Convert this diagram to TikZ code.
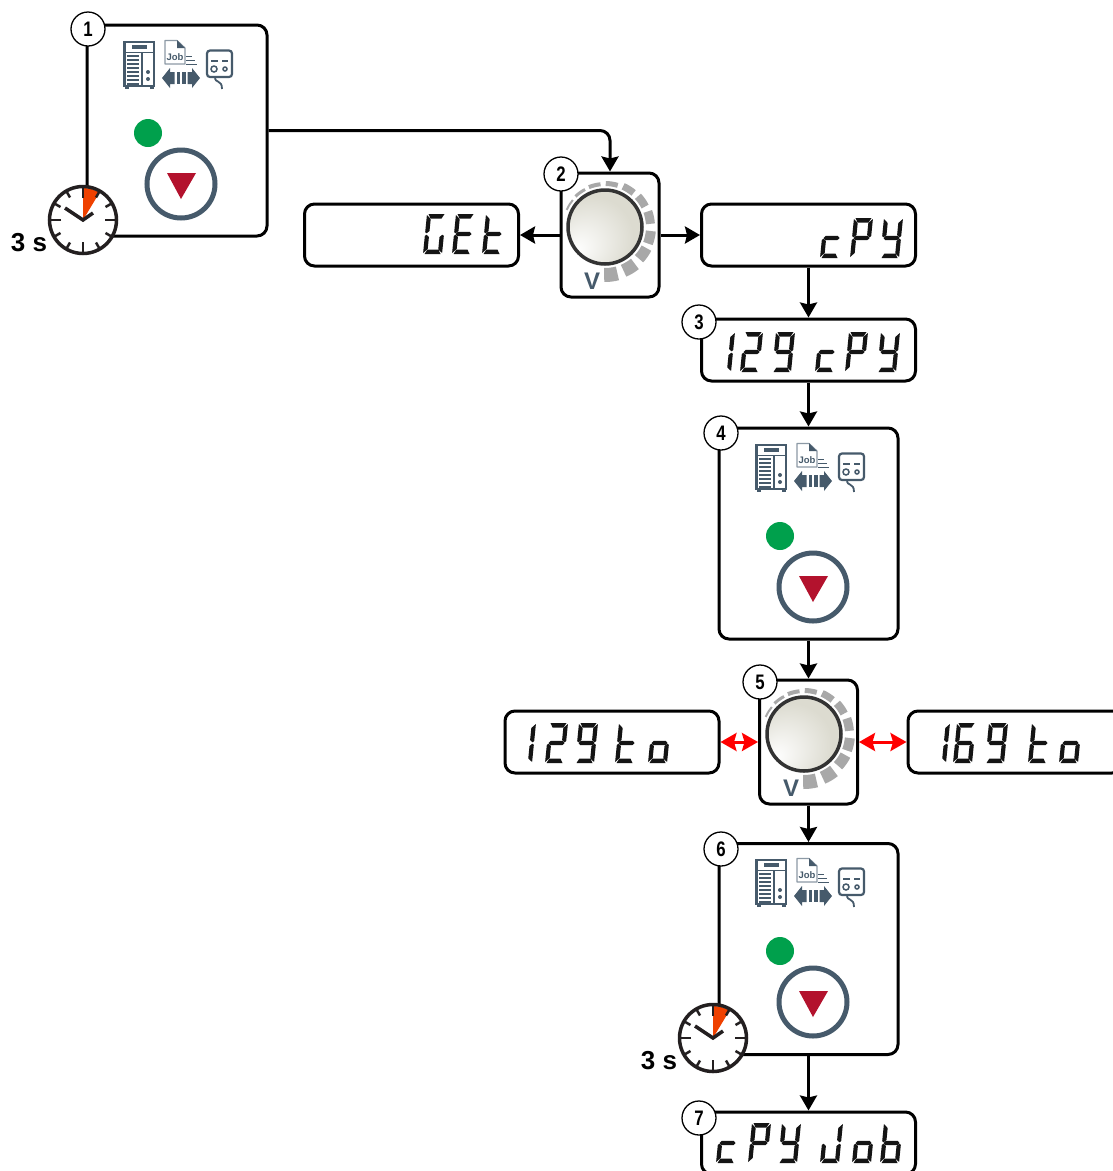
\documentclass[tikz,border=0pt]{standalone}
\usepackage{fontspec}
\usetikzlibrary{arrows.meta}
\setmainfont{Liberation Sans}
\newfontfamily\narrowbold[FakeStretch=0.8]{Liberation Sans Bold}

\definecolor{slate}{HTML}{465A6B}
\definecolor{ledgreen}{HTML}{00A04C}
\definecolor{crimson}{HTML}{B3122D}
\definecolor{wedgeorange}{HTML}{EF4100}
\definecolor{clockink}{HTML}{231F20}
\definecolor{dialgray}{HTML}{A8A8A8}
\definecolor{knobgray}{HTML}{DCDBD0}
\definecolor{lcdink}{HTML}{141414}
\definecolor{paperline}{HTML}{8C99A5}

\pgfdeclareradialshading{knob shade}{\pgfpoint{-20bp}{-16bp}}{color(0bp)=(white); color(28bp)=(knobgray); color(50bp)=(knobgray)}

\def\lcdsega{(1.5,0) -- (17.5,0) -- (15,4.5) -- (4,4.5) -- cycle}
\def\lcdsegb{(19,1) -- (19,18) -- (17.5,19.3) -- (14.8,17) -- (14.8,5) -- cycle}
\def\lcdsegc{(19,22) -- (19,39) -- (14.8,35.5) -- (14.8,23) -- (17.5,20.7) -- cycle}
\def\lcdsegd{(4,35.5) -- (15,35.5) -- (17.5,40) -- (1.5,40) -- cycle}
\def\lcdsege{(0,22) -- (1.5,20.7) -- (4.2,23) -- (4.2,35) -- (0,39) -- cycle}
\def\lcdsegf{(0,1) -- (4.2,5) -- (4.2,17) -- (1.5,19.3) -- (0,18) -- cycle}
\def\lcdsegg{(3.5,17.8) -- (15.5,17.8) -- (17.5,20) -- (15.5,22.2) -- (3.5,22.2) -- (1.5,20) -- cycle}

\newcommand{\lcddef}[2]{\expandafter\def\csname lcd#1\endcsname{#2}}
\lcddef{1}{b,c}
\lcddef{2}{a,b,g,e,d}
\lcddef{6}{a,f,g,e,c,d}
\lcddef{9}{a,b,f,g,c,d}
\lcddef{G}{a,f,e,d,c}
\lcddef{E}{a,f,g,e,d}
\lcddef{t}{f,e,g,d}
\lcddef{c}{g,e,d}
\lcddef{P}{a,b,f,g,e}
\lcddef{Y}{f,b,g,c,d}
\lcddef{J}{b,c,d,e}
\lcddef{o}{g,c,d,e}
\lcddef{b}{f,e,d,c,g}

\newcommand{\lcdglyph}[3]{%
	\edef\lcdlist{\csname lcd#3\endcsname}%
	\begin{scope}[shift = {(#1,#2)}, xslant = 0.1]
		\foreach \s in \lcdlist {\fill [lcdink] \csname lcdseg\s\endcsname;}
	\end{scope}}

\tikzset{
	flow/.style = {line width = 3pt, -{Stealth[length = 15pt, width = 17pt, inset = 2pt]}},
	swap/.style = {line width = 3pt, red, {Stealth[length = 16pt, width = 18pt, inset = 2.5pt]}-{Stealth[length = 16pt, width = 18pt, inset = 2.5pt]}},
	panel/.style = {draw, line width = 3pt, rounded corners = 10pt, fill = white, minimum width = 180pt, minimum height = 211pt},
	knob box/.style = {draw, line width = 3pt, rounded corners = 10pt, fill = white, minimum width = 98pt, minimum height = 124pt},
	display/.style = {draw, line width = 3pt, rounded corners = 10pt, fill = white, minimum width = 214pt, minimum height = 62pt, text opacity = 0, font = \bfseries\fontsize{28}{30}\selectfont},
	step mark/.style = {circle, draw, line width = 1.3pt, fill = white, minimum size = 34pt, inner sep = 0pt, font = \narrowbold\fontsize{21}{21}\selectfont},
	secs/.style = {font = \bfseries\fontsize{26}{26}\selectfont},
	panel icons/.pic = {
		\draw [slate, line width = 2.5pt] (124.5,42) rectangle (154,86);
		\fill [slate] (125,85) rectangle (129,89);
		\fill [slate] (150,85) rectangle (154,89);
		\fill [slate] (132,45) rectangle (147,49);
		\draw [slate, line width = 1.5pt] (124.5,52.5) -- (154,52.5);
		\draw [slate, line width = 1.5pt] (142,52.5) -- (142,86);
		\foreach \y in {56,60,...,84} \draw [slate, line width = 1.6pt] (127,\y) -- (139,\y);
		\fill [slate] (148,72) circle [radius = 2pt];
		\fill [slate] (148,79) circle [radius = 2pt];
		\draw [paperline, line width = 1.2pt, line join = round] (165,40.5) -- (177,40.5) -- (185,48) -- (185,64) -- (165,64) -- cycle;
		\fill [slate] (177,40) -- (185,48) -- (177,48) -- cycle;
		\node [slate, inner sep = 0pt, font = \bfseries\fontsize{9.5}{10}\selectfont] (job) at (175,57) {Job};
		\draw [slate, line width = 1pt] (186,56) -- (192,56);
		\draw [slate, line width = 1pt] (186,60) -- (195,60);
		\draw [slate, line width = 1pt] (186,64) -- (197,64);
		\fill [slate] (162,78) -- (170,68) -- (170,72) -- (174.5,72) -- (174.5,84) -- (170,84) -- (170,88) -- cycle;
		\fill [slate] (200,78) -- (192,68) -- (192,72) -- (187.5,72) -- (187.5,84) -- (192,84) -- (192,88) -- cycle;
		\fill [slate] (176.5,72) rectangle (180,84);
		\fill [slate] (182,72) rectangle (185.5,84);
		\draw [slate, line width = 2.2pt, rounded corners = 3pt] (207,50.5) rectangle (232,77);
		\draw [slate, line width = 2.5pt] (211,61) -- (218,61);
		\draw [slate, line width = 2.5pt] (222,61) -- (228,61);
		\draw [slate, line width = 1.5pt] (214,69) circle [radius = 3pt];
		\draw [slate, line width = 1.5pt] (225,69) circle [radius = 2pt];
		\draw [slate, line width = 1.8pt] (215,77) .. controls (215,84) and (222,79) .. (222,89);
		\fill [ledgreen] (148,133) circle [radius = 14pt];
		\draw [slate, line width = 5pt] (181,184) circle [radius = 34pt];
		\fill [crimson] (167,173) -- (196,173) -- (181,199) -- cycle;
	},
	knob dial/.pic = {
		\foreach \a/\t in {-83/14,-59/13,-35/11,-13/10,12/9,35/8,58/7,81/5,104/4,126/3,148/2}
			\draw [dialgray, line width = \t pt] (\a-8:41pt+\t pt/2) arc [start angle = \a-8, end angle = \a+8, radius = 41pt+\t pt/2];
		\shade [shading = knob shade] (0,0) circle [radius = 37pt];
		\draw [black!80, line width = 3.5pt] (0,0) circle [radius = 37pt];
		\node [slate, inner sep = 0pt, font = \bfseries\fontsize{24}{24}\selectfont] (unit) at (-13,54) {V};
	},
	clock face/.pic = {
		\fill [white] (0,0) circle [radius = 34pt];
		\fill [wedgeorange] (0,0) -- (90:32pt) arc [start angle = 90, end angle = 59, radius = 32pt] -- cycle;
		\foreach \a in {0,90,180,270} \draw [clockink, line width = 2.5pt] (\a:22pt) -- (\a:33pt);
		\foreach \a in {30,60,120,150,210,240,300,330} \draw [clockink, line width = 2.5pt] (\a:26pt) -- (\a:33pt);
		\draw [clockink, line width = 3.5pt, line join = miter] (-18,-12) -- (0,0) -- (10,-7);
		\draw [clockink, line width = 3.5pt] (0,0) circle [radius = 33.5pt];
	}
}

\begin{document}
\begin{tikzpicture}[x = 1pt, y = -1pt]
	\path [use as bounding box] (0,0) rectangle (1113,1171);
	\clip (0,0) rectangle (1113,1171);

	\node [panel] (job a) at (177,130.5) {};
	\node [panel, minimum width = 179pt] (job b) at (808.5,533.5) {};
	\node [panel, minimum width = 179pt] (job c) at (808.5,949) {};

	\node [knob box] (knob a) at (610,235) {};
	\node [knob box] (knob b) at (808.5,742) {};

	\node [display] (get) at (411.5,235) {GEt};
	\node [display] (copy a) at (808.5,235) {cPY};
	\node [display] (copy b) at (808.5,350) {129 cPY};
	\node [display] (from) at (612,742) {129 to};
	\node [display] (to) at (1015,742) {169 to};
	\node [display] (copy c) at (808.5,1143) {cPY Job};

	\draw [flow, rounded corners = 10pt] (job a.east) -| (knob a.north);
	\draw [flow] (knob a.west) -- (get.east);
	\draw [flow] (knob a.east) -- (copy a.west);
	\draw [flow] (copy a.south) -- (copy b.north);
	\draw [flow] (copy b.south) -- (job b.north);
	\draw [flow] (job b.south) -- (knob b.north);
	\draw [flow] (knob b.south) -- (job c.north);
	\draw [flow] (job c.south) -- (copy c.north);
	\draw [swap] (from.east) -- (knob b.west);
	\draw [swap] (knob b.east) -- (to.west);

	\pic (icons a) {panel icons};
	\pic (icons b) at (632,403) {panel icons};
	\pic (icons c) at (632,818) {panel icons};

	\pic (dial a) at (605,227) {knob dial};
	\pic (dial b) at (804,734) {knob dial};

	\pic (clock a) at (83,220) {clock face};
	\pic (clock b) at (713,1038) {clock face};
	\node [secs] (secs a) at (29,243) {3 s};
	\node [secs] (secs b) at (659,1061) {3 s};

	\foreach \x/\g in {427/G,456/E,486/t} \lcdglyph{\x}{214}{\g};
	\foreach \x/\g in {824/c,854/P,884/Y} \lcdglyph{\x}{218}{\g};
	\foreach \x/\g in {716/1,744/2,776/9,819/c,849/P,881/Y} \lcdglyph{\x}{332}{\g};
	\foreach \x/\g in {517/1,549/2,579/9,619/t,652/o} \lcdglyph{\x}{723}{\g};
	\foreach \x/\g in {931/1,957/6,989/9,1032/t,1063/o} \lcdglyph{\x}{723}{\g};
	\foreach \x/\g in {720/c,752/P,782/Y,824/J,856/o,884/b} \lcdglyph{\x}{1123}{\g};

	\node [step mark] (mark 1) at (88,29) {1};
	\node [step mark] (mark 2) at (561,174) {2};
	\node [step mark] (mark 3) at (699,322) {3};
	\node [step mark] (mark 4) at (721,433) {4};
	\node [step mark] (mark 5) at (760,682) {5};
	\node [step mark] (mark 6) at (721,849) {6};
	\node [step mark] (mark 7) at (699,1118) {7};
\end{tikzpicture}
\end{document}
